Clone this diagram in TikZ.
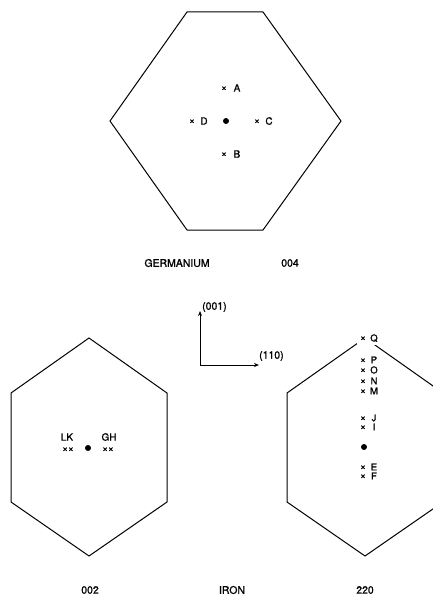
\documentclass[tikz,border=0pt]{standalone}
\usepackage{fontspec}
\setmainfont{TeX Gyre Heros}[FakeBold=1.2]
\usetikzlibrary{arrows.meta}
\begin{document}
\begin{tikzpicture}[x=1bp,y=-1bp,
  hex/.style={line width=1bp,line join=round},
  lbl/.style={inner sep=0pt,font=\fontsize{10}{10}\selectfont},
  mlbl/.style={inner sep=0pt,text height=6.8bp,text depth=0bp,font=\fontsize{9.5}{9.5}\selectfont},
  crossm/.style={inner sep=0pt,text height=5.5bp,text depth=-0.5bp,font=\fontsize{10}{10}\selectfont},
  captext/.style={inner sep=0pt,font=\fontsize{10.5}{10.5}\selectfont},
  dotc/.style={circle,fill=black,inner sep=0pt,minimum size=6bp},
  axis/.style={line width=1bp,-{Stealth[length=5bp,width=4bp]}}]
\useasboundingbox (0,0) rectangle (433,598);
% Germanium hexagon
\draw[hex] (187,12) -- (263,12) -- (341,121) -- (263,230) -- (187,230) -- (110,121) -- cycle;
\node[dotc] (g0) at (226,121) {};
\node[crossm] (gxA) at (224,88) {×};  \node[lbl] (gA) at (237,88) {A};
\node[crossm] (gxB) at (224,154) {×}; \node[lbl] (gB) at (237,154) {B};
\node[crossm] (gxC) at (257,121) {×}; \node[lbl] (gC) at (269,121) {C};
\node[crossm] (gxD) at (192,121) {×}; \node[lbl] (gD) at (204,121) {D};
\node[captext] (germ) at (177,263) {GERMANIUM};
\node[captext] (g004) at (290,263) {004};
% axes
\coordinate (o) at (200,365);
\coordinate (up) at (200,311);
\coordinate (rt) at (259,365);
\draw[axis] (o) -- (up);
\draw[axis] (o) -- (rt);
\node[captext,anchor=west] (a001) at (202,307) {(001)};
\node[captext,anchor=west] (a110) at (259,356) {(110)};
% Iron 002 hexagon
\draw[hex] (89,338) -- (167,393) -- (167,502) -- (89,556) -- (11,502) -- (11,393) -- cycle;
\node[dotc] (l0) at (88,448) {};
\node[lbl] (LK) at (67,437) {LK};
\node[crossm] (xLK) at (68,449) {××};
\node[lbl] (GH) at (109,437) {GH};
\node[crossm] (xGH) at (108,449) {××};
\node[captext] (c002) at (90,590) {002};
\node[captext] (iron) at (232,590) {IRON};
\node[captext] (c220) at (365,590) {220};
% Iron 220 hexagon
\draw[hex] (365,338) -- (443,393) -- (443,502) -- (365,556) -- (287,502) -- (287,393) -- cycle;
\node[dotc] (r0) at (364,447) {};
\node[fill=white,inner sep=1bp,minimum height=13bp,minimum width=24bp] (Qbg) at (369,338) {};
\foreach \n/\y in {Q/338,P/360,O/370,N/381,M/391,J/418,I/427,E/467,F/476}{
  \node[crossm] (x\n) at (363,\y) {×};
  \node[mlbl] (l\n) at (374,\y) {\n};
}
\end{tikzpicture}
\end{document}
